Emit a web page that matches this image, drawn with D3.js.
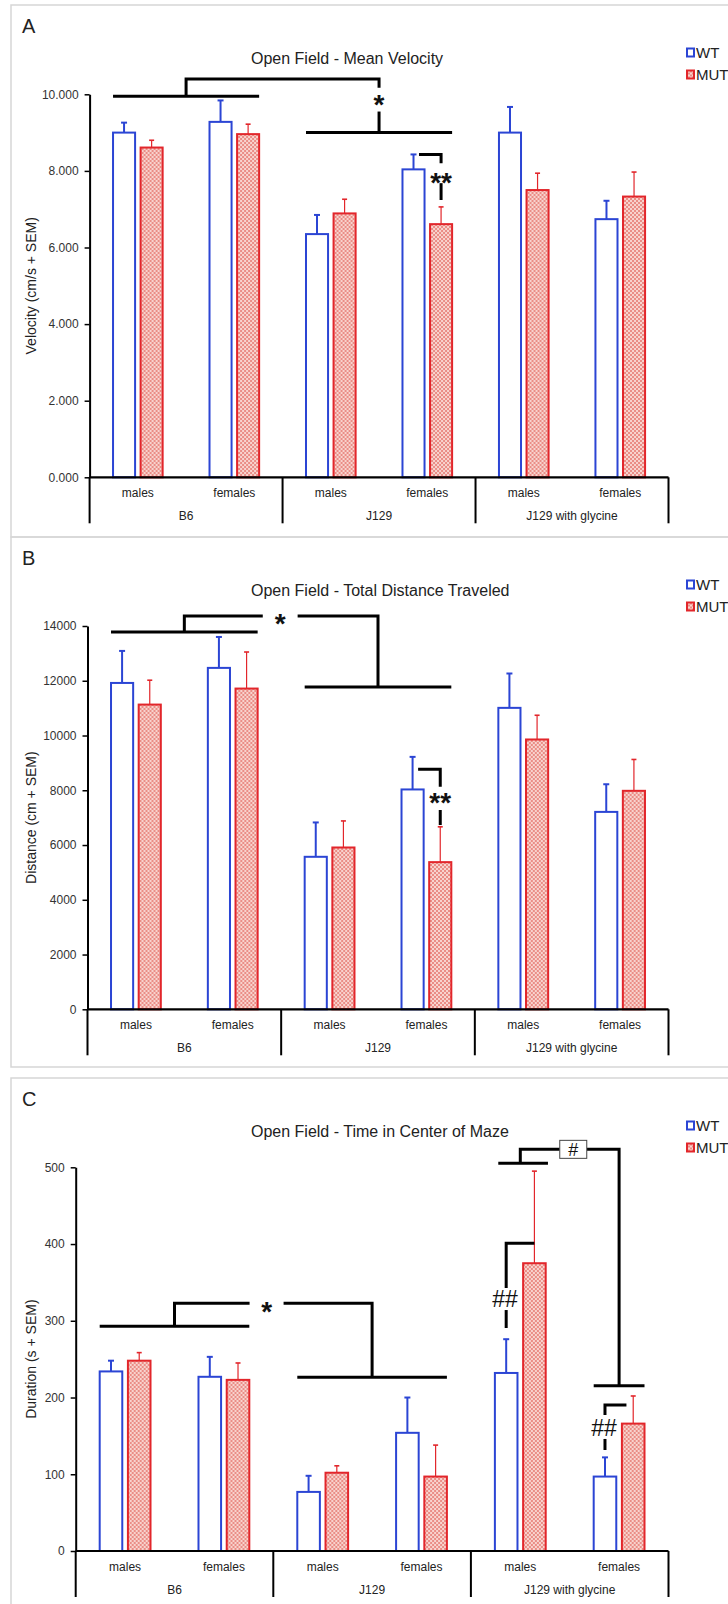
<!DOCTYPE html>
<html>
<head>
<meta charset="utf-8">
<script src="https://cdn.jsdelivr.net/npm/d3@7"></script>
<style>
  body { margin: 0; background: #fff; }
  text { font-family: "Liberation Sans", Arial, sans-serif; }
</style>
</head>
<body>
<svg id="chart" width="728" height="1604"></svg>
<script>
const groups = ["B6", "J129", "J129 with glycine"];
const sexes = ["males", "females"];
const series = ["WT", "MUT"];

// A - mean velocity (cm/s), order: B6 m, B6 f, J129 m, J129 f, gly m, gly f
const velWT = [9.0, 9.28, 6.35, 8.04, 9.0, 6.74];
const velWTSem = [0.26, 0.56, 0.5, 0.39, 0.67, 0.48];
const velMUT = [8.61, 8.96, 6.89, 6.61, 7.5, 7.33];
const velMUTSem = [0.19, 0.26, 0.37, 0.45, 0.44, 0.64];

// B - total distance (cm)
const distWT = [11920, 12470, 5570, 8030, 11010, 7210];
const distWTSem = [1170, 1130, 1255, 1190, 1255, 1010];
const distMUT = [11130, 11715, 5910, 5375, 9855, 7980];
const distMUTSem = [890, 1335, 970, 1290, 885, 1145];

// C - time in center (s)
const timeWT = [234, 227, 77, 154, 232, 97];
const timeWTSem = [14, 26, 21, 46, 44, 25];
const timeMUT = [248, 223, 102, 97, 375, 166];
const timeMUTSem = [10.5, 22, 9, 41, 120, 36];

const velTicks = [0, 2, 4, 6, 8, 10];
const distTicks = [0, 2000, 4000, 6000, 8000, 10000, 12000, 14000];
const timeTicks = [0, 100, 200, 300, 400, 500];

// significance brackets: x refs -> "g:i" group centre, "s:i" subgroup centre,
// "b:i:key:f" bar edge fraction, "gg:a:b:f" / "ss:a:b:f" between centres
const annA = {
  lines: [
    [["b:0:WT:0", 9.95], ["b:1:MUT:1", 9.95]],
    [["g:0", 9.95], ["g:0", 10.4], ["g:1", 10.4], ["g:1", 10.17]],
    [["g:1", 9.55], ["g:1", 9.0]],
    [["b:2:WT:0", 9.0], ["b:3:MUT:1", 9.0]],
    [["b:3:WT:0.75", 8.43], ["b:3:MUT:0.5", 8.43], ["b:3:MUT:0.5", 8.2]],
    [["b:3:MUT:0.5", 7.68], ["b:3:MUT:0.5", 7.24]]
  ],
  marks: [
    { t: "*", x: "g:1", v: 9.9 },
    { t: "**", x: "b:3:MUT:0.5", v: 7.87 }
  ]
};
const annB = {
  lines: [
    [["b:0:WT:0", 13780], ["b:1:MUT:1", 13780]],
    [["g:0", 13780], ["g:0", 14365], ["gg:0:1:0.405", 14365]],
    [["gg:0:1:0.585", 14365], ["g:1", 14365], ["g:1", 11775]],
    [["b:2:WT:0", 11775], ["b:3:MUT:1", 11775]],
    [["b:3:WT:0.75", 8770], ["b:3:MUT:0.5", 8770], ["b:3:MUT:0.5", 8125]],
    [["b:3:MUT:0.5", 7280], ["b:3:MUT:0.5", 6730]]
  ],
  marks: [
    { t: "*", x: "gg:0:1:0.495", v: 14330 },
    { t: "**", x: "b:3:MUT:0.5", v: 7790 }
  ]
};
const annC = {
  lines: [
    [["b:0:WT:0", 293], ["b:1:MUT:1", 293]],
    [["g:0", 293], ["g:0", 322.8], ["gg:0:1:0.38", 322.8]],
    [["gg:0:1:0.552", 322.8], ["g:1", 322.8], ["g:1", 226.3]],
    [["b:2:WT:0", 226.3], ["b:3:MUT:1", 226.3]],
    [["b:4:WT:0.15", 505.2], ["b:4:MUT:1.1", 505.2]],
    [["s:4", 505.2], ["s:4", 523.4], ["ss:4:5:0.4", 523.4]],
    [["ss:4:5:0.672", 523.4], ["s:5", 523.4], ["s:5", 215.4]],
    [["b:5:WT:0", 215.4], ["b:5:MUT:1", 215.4]],
    [["b:4:MUT:0.5", 400.9], ["b:4:WT:0.5", 400.9], ["b:4:WT:0.5", 342.7]],
    [["b:4:WT:0.5", 314], ["b:4:WT:0.5", 290.6]],
    [["b:5:MUT:0.2", 190.3], ["b:5:WT:0.5", 190.3], ["b:5:WT:0.5", 177.2]],
    [["b:5:WT:0.5", 146], ["b:5:WT:0.5", 131.6]]
  ],
  marks: [
    { t: "*", x: "gg:0:1:0.466", v: 321 },
    { t: "##", x: "b:4:WT:0.45", v: 329 },
    { t: "##", x: "b:5:WT:0.46", v: 160.3 },
    { t: "#", x: "ss:4:5:0.536", v: 523.4, box: true }
  ]
};

const panels = [
  {
    letter: "A", title: "Open Field - Mean Velocity", ylabel: "Velocity (cm/s + SEM)",
    wt: velWT, wtSem: velWTSem, mut: velMUT, mutSem: velMUTSem,
    ticks: velTicks, fmt: d3.format(".3f"), ann: annA,
    top: 5, bottom: 537, left: 89.6, base: 477.3, yTop: 94.3
  },
  {
    letter: "B", title: "Open Field - Total Distance Traveled", ylabel: "Distance (cm + SEM)",
    wt: distWT, wtSem: distWTSem, mut: distMUT, mutSem: distMUTSem,
    ticks: distTicks, fmt: d3.format("d"), ann: annB,
    top: 537, bottom: 1067, left: 87.5, base: 1009.3, yTop: 626
  },
  {
    letter: "C", title: "Open Field - Time in Center of Maze", ylabel: "Duration (s + SEM)",
    wt: timeWT, wtSem: timeWTSem, mut: timeMUT, mutSem: timeMUTSem,
    ticks: timeTicks, fmt: d3.format("d"), ann: annC,
    top: 1078, bottom: 1640, left: 75.7, base: 1551, yTop: 1167.3
  }
];

const blue = "#2b45d4";
const red = "#e2262b";
const right = 668.5;

const svg = d3.select("#chart");

const pat = svg.append("defs").append("pattern")
  .attr("id", "hatch")
  .attr("patternUnits", "userSpaceOnUse")
  .attr("width", 4)
  .attr("height", 4);
pat.append("rect").attr("width", 4).attr("height", 4).attr("fill", "#f8d3ce");
pat.append("rect").attr("width", 2).attr("height", 2).attr("fill", "#ea8d86");
pat.append("rect").attr("x", 2).attr("y", 2).attr("width", 2).attr("height", 2).attr("fill", "#ea8d86");

const subgroups = groups.flatMap(g => sexes.map(s => g + "|" + s));

panels.forEach(p => {
  const g = svg.append("g");

  g.append("rect")
    .attr("x", 11)
    .attr("y", p.top)
    .attr("width", 760)
    .attr("height", p.bottom - p.top)
    .attr("fill", "none")
    .attr("stroke", "#d6d6d6")
    .attr("stroke-width", 1.5);

  g.append("text")
    .attr("x", 22)
    .attr("y", p.top + 28)
    .attr("font-size", 20)
    .attr("fill", "#222")
    .text(p.letter);

  g.append("text")
    .attr("x", 251)
    .attr("y", p.top + 59)
    .attr("font-size", 16)
    .attr("fill", "#222")
    .text(p.title);

  const x0 = d3.scaleBand().domain(subgroups).range([p.left, right]);
  const x1 = d3
    .scaleBand()
    .domain(series)
    .range([0, x0.bandwidth()])
    .paddingInner(0.2)
    .paddingOuter(0.85);
  const y = d3
    .scaleLinear()
    .domain([0, d3.max(p.ticks)])
    .range([p.base, p.yTop]);

  const sub = i => subgroups[i];
  const gCenter = i =>
    (x0(sub(i * 2)) + x0(sub(i * 2 + 1)) + x0.bandwidth()) / 2;
  const sCenter = i => x0(sub(i)) + x0.bandwidth() / 2;
  const xr = ref => {
    const a = ref.split(":");
    if (a[0] == "g") return gCenter(+a[1]);
    if (a[0] == "s") return sCenter(+a[1]);
    if (a[0] == "b") return x0(sub(+a[1])) + x1(a[2]) + x1.bandwidth() * +a[3];
    if (a[0] == "gg") return gCenter(+a[1]) + (gCenter(+a[2]) - gCenter(+a[1])) * +a[3];
    if (a[0] == "ss") return sCenter(+a[1]) + (sCenter(+a[2]) - sCenter(+a[1])) * +a[3];
  };

  // y axis
  const yAxis = g
    .append("g")
    .attr("transform", `translate(${p.left},0)`)
    .call(
      d3.axisLeft(y)
        .tickValues(p.ticks)
        .tickFormat(p.fmt)
        .tickSize(5)
        .tickSizeOuter(0)
        .tickPadding(6)
    );
  yAxis.select(".domain").attr("stroke", "#000").attr("stroke-width", 2);
  yAxis.selectAll(".tick line").attr("stroke", "#000").attr("stroke-width", 1.5);
  yAxis.selectAll(".tick text")
    .attr("font-size", 12)
    .attr("font-family", "Liberation Sans, Arial, sans-serif")
    .attr("fill", "#333");

  g.append("text")
    .attr("transform", `translate(36,${(p.base + p.yTop) / 2}) rotate(-90)`)
    .attr("text-anchor", "middle")
    .attr("font-size", 14)
    .attr("fill", "#222")
    .text(p.ylabel);

  // bars
  const rows = subgroups.map((s, i) => ({
    s,
    vals: [
      { k: "WT", v: p.wt[i], e: p.wtSem[i] },
      { k: "MUT", v: p.mut[i], e: p.mutSem[i] }
    ]
  }));

  const sg = g
    .selectAll("g.sub")
    .data(rows)
    .enter()
    .append("g")
    .classed("sub", true)
    .attr("transform", d => `translate(${x0(d.s)},0)`);

  const bar = sg
    .selectAll("g.bar")
    .data(d => d.vals)
    .enter()
    .append("g")
    .classed("bar", true);

  bar
    .append("line")
    .attr("x1", d => x1(d.k) + x1.bandwidth() / 2)
    .attr("x2", d => x1(d.k) + x1.bandwidth() / 2)
    .attr("y1", d => y(d.v))
    .attr("y2", d => y(d.v + d.e))
    .attr("stroke", d => (d.k == "WT" ? blue : red))
    .attr("stroke-width", d => (d.k == "WT" ? 2 : 1.2));

  bar
    .append("line")
    .attr("x1", d => x1(d.k) + x1.bandwidth() / 2 - (d.k == "WT" ? 3 : 2.5))
    .attr("x2", d => x1(d.k) + x1.bandwidth() / 2 + (d.k == "WT" ? 3 : 2.5))
    .attr("y1", d => y(d.v + d.e))
    .attr("y2", d => y(d.v + d.e))
    .attr("stroke", d => (d.k == "WT" ? blue : red))
    .attr("stroke-width", d => (d.k == "WT" ? 2 : 1.6));

  bar
    .append("rect")
    .attr("x", d => x1(d.k))
    .attr("y", d => y(d.v))
    .attr("width", x1.bandwidth())
    .attr("height", d => p.base - y(d.v))
    .attr("fill", d => (d.k == "WT" ? "#fff" : "url(#hatch)"))
    .attr("stroke", d => (d.k == "WT" ? blue : red))
    .attr("stroke-width", 2);

  // x axis with group dividers
  g.append("line")
    .attr("x1", p.left)
    .attr("x2", right)
    .attr("y1", p.base)
    .attr("y2", p.base)
    .attr("stroke", "#000")
    .attr("stroke-width", 2.2);

  const dividers = groups.map((_, i) => x0(sub(i * 2))).concat([right]);
  g.selectAll("line.div")
    .data(dividers)
    .enter()
    .append("line")
    .classed("div", true)
    .attr("x1", d => d)
    .attr("x2", d => d)
    .attr("y1", p.base)
    .attr("y2", p.base + 46)
    .attr("stroke", "#000")
    .attr("stroke-width", 2);

  g.selectAll("text.sex")
    .data(subgroups)
    .enter()
    .append("text")
    .classed("sex", true)
    .attr("x", d => x0(d) + x0.bandwidth() / 2)
    .attr("y", p.base + 20)
    .attr("text-anchor", "middle")
    .attr("font-size", 12)
    .attr("fill", "#222")
    .text(d => d.split("|")[1]);

  g.selectAll("text.grp")
    .data(groups)
    .enter()
    .append("text")
    .classed("grp", true)
    .attr("x", (d, i) => gCenter(i))
    .attr("y", p.base + 43)
    .attr("text-anchor", "middle")
    .attr("font-size", 12)
    .attr("fill", "#222")
    .text(d => d);

  // legend
  const leg = g
    .selectAll("g.leg")
    .data(series)
    .enter()
    .append("g")
    .classed("leg", true)
    .attr("transform", (d, i) => `translate(686,${p.top + 47.5 + i * 22})`);
  leg
    .append("rect")
    .attr("x", 1)
    .attr("y", -4)
    .attr("width", 7)
    .attr("height", 8)
    .attr("fill", d => (d == "WT" ? "#fff" : "url(#hatch)"))
    .attr("stroke", d => (d == "WT" ? blue : red))
    .attr("stroke-width", 2);
  leg
    .append("text")
    .attr("x", 10)
    .attr("y", 5.5)
    .attr("font-size", 15)
    .attr("fill", "#222")
    .text(d => d);

  // significance marks
  const line = d3
    .line()
    .x(d => xr(d[0]))
    .y(d => y(d[1]));
  g.selectAll("path.sig")
    .data(p.ann.lines)
    .enter()
    .append("path")
    .classed("sig", true)
    .attr("d", line)
    .attr("fill", "none")
    .attr("stroke", "#000")
    .attr("stroke-width", 3);

  p.ann.marks.forEach(m => {
    const cx = xr(m.x);
    const cy = y(m.v);
    if (m.box) {
      g.append("rect")
        .attr("x", cx - 13.5)
        .attr("y", cy - 9)
        .attr("width", 27)
        .attr("height", 18)
        .attr("fill", "#fff")
        .attr("stroke", "#444")
        .attr("stroke-width", 1);
    }
    const star = m.t[0] == "*";
    const fs = star ? 28 : m.box ? 18 : 23;
    g.append("text")
      .attr("x", cx)
      .attr("y", cy + (star ? 0.57 : 0.36) * fs)
      .attr("text-anchor", "middle")
      .attr("font-size", fs)
      .attr("font-weight", star ? "bold" : "normal")
      .attr("fill", "#111")
      .text(m.t);
  });
});
</script>
</body>
</html>
